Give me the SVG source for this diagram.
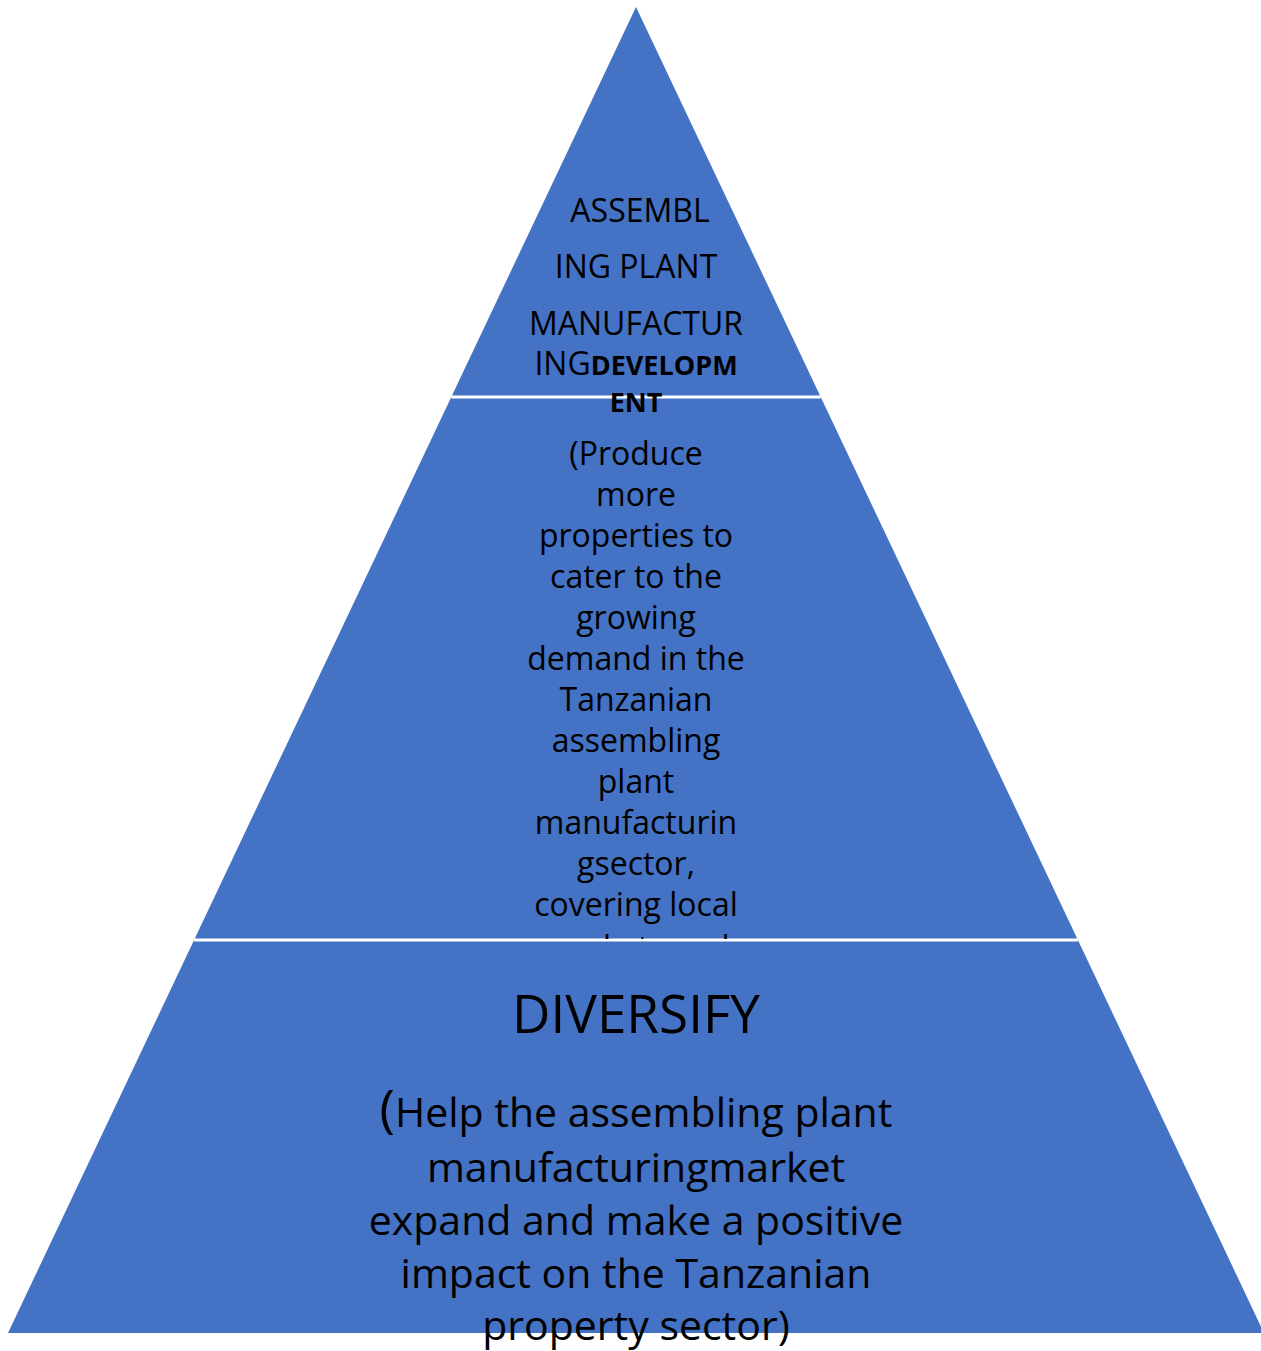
<svg xmlns="http://www.w3.org/2000/svg" width="1261" height="1351" viewBox="0 0 1261 1351">
<style>
.band{fill:#4472C4;}
.div{stroke:#FFFFFF;stroke-width:3;fill:none;}
text{font-family:"Open Sans","Noto Sans","Liberation Sans",sans-serif;fill:#000000;text-anchor:middle;}
.t1{font-size:32px;}
.t2{font-size:32px;}
.t3{font-size:41px;}
.big{font-size:53px;}
.b{font-weight:bold;font-size:27px;}
</style>
<defs>
<clipPath id="midclip"><rect x="0" y="397" width="1261" height="542"/></clipPath>
</defs>
<g id="band-bottom">
<polygon class="band" points="194.1,940 1077.9,940 1264,1333 8,1333"/>
</g>
<g id="band-middle">
<polygon class="band" points="451.3,397 820.7,397 1077.9,940 194.1,940"/>
</g>
<g id="band-top">
<polygon class="band" points="636,7 820.7,397 451.3,397"/>
</g>
<g id="connectors">
<line class="div" x1="451.3" y1="397" x2="820.7" y2="397"/>
<line class="div" x1="194.1" y1="940" x2="1077.9" y2="940"/>
</g>
<g id="text-top">
<text class="t1" x="640" y="222">ASSEMBL</text>
<text class="t1" x="636" y="278">ING PLANT</text>
<text class="t1" x="636" y="335">MANUFACTUR</text>
<text x="636" y="375"><tspan class="t1">ING</tspan><tspan class="b">DEVELOPM</tspan></text>
<text class="b" x="636" y="412">ENT</text>
</g>
<g id="text-middle" clip-path="url(#midclip)">
<text class="t2" x="636" y="465">(Produce</text>
<text class="t2" x="636" y="506">more</text>
<text class="t2" x="636" y="547">properties to</text>
<text class="t2" x="636" y="588">cater to the</text>
<text class="t2" x="636" y="629">growing</text>
<text class="t2" x="636" y="670">demand in the</text>
<text class="t2" x="636" y="711">Tanzanian</text>
<text class="t2" x="636" y="752">assembling</text>
<text class="t2" x="636" y="793">plant</text>
<text class="t2" x="636" y="834">manufacturin</text>
<text class="t2" x="636" y="875">gsector,</text>
<text class="t2" x="636" y="916">covering local</text>
<text class="t2" x="636" y="959">markets and</text>
</g>
<g id="text-bottom">
<text class="big" x="636" y="1033">DIVERSIFY</text>
<text x="636" y="1127"><tspan style="font-size:52px">(</tspan><tspan class="t3">Help the assembling plant</tspan></text>
<text class="t3" x="636" y="1182">manufacturingmarket</text>
<text class="t3" x="636" y="1235">expand and make a positive</text>
<text class="t3" x="636" y="1288">impact on the Tanzanian</text>
<text class="t3" x="636" y="1340">property sector)</text>
</g>
</svg>
